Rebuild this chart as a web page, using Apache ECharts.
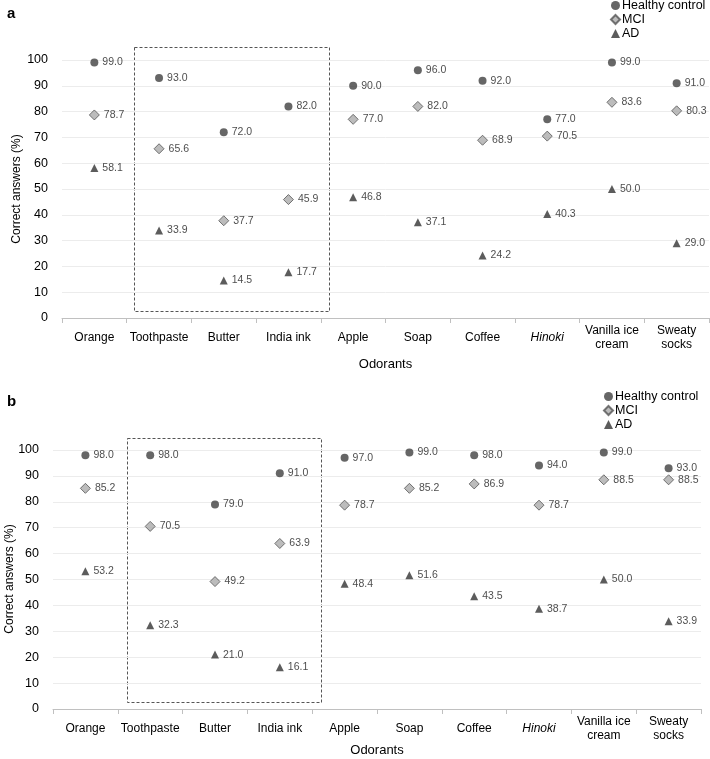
<!DOCTYPE html>
<html><head><meta charset="utf-8">
<script src="https://cdn.jsdelivr.net/npm/echarts@6/dist/echarts.min.js"></script>
<style>html,body{margin:0;padding:0;background:#fff}#c{width:710px;height:759px}</style>
</head><body><div id="c"></div>
<script>
var categories = ['Orange','Toothpaste','Butter','India ink','Apple','Soap','Coffee','Hinoki','Vanilla ice\ncream','Sweaty\nsocks'];
var seriesNames = ['Healthy control','MCI','AD'];
var aHealthy = [99.0, 93.0, 72.0, 82.0, 90.0, 96.0, 92.0, 77.0, 99.0, 91.0];
var aMCI     = [78.7, 65.6, 37.7, 45.9, 77.0, 82.0, 68.9, 70.5, 83.6, 80.3];
var aAD      = [58.1, 33.9, 14.5, 17.7, 46.8, 37.1, 24.2, 40.3, 50.0, 29.0];
var bHealthy = [98.0, 98.0, 79.0, 91.0, 97.0, 99.0, 98.0, 94.0, 99.0, 93.0];
var bMCI     = [85.2, 70.5, 49.2, 63.9, 78.7, 85.2, 86.9, 78.7, 88.5, 88.5];
var bAD      = [53.2, 32.3, 21.0, 16.1, 48.4, 51.6, 43.5, 38.7, 50.0, 33.9];
var yTicks = {min: 0, max: 100, interval: 10};
var yName = 'Correct answers (%)';

var FONT = '"Liberation Sans", Arial, sans-serif';
var styles = [
  {symbol: 'circle', size: 8, itemStyle: {color: '#404040'}},
  {symbol: 'diamond', size: 10, itemStyle: {color: '#ababab', borderColor: '#555', borderWidth: 1}},
  {symbol: 'triangle', size: 8, itemStyle: {color: '#333333'}}
];

function xAxis(gi, nameGap) {
  return {
    type: 'category', gridIndex: gi, data: categories,
    name: 'Odorants', nameLocation: 'middle', nameGap: nameGap,
    nameTextStyle: {fontSize: 13, color: '#000', fontFamily: FONT},
    axisLine: {lineStyle: {color: '#c0c0c0'}},
    axisTick: {show: true, length: 5, lineStyle: {color: '#c0c0c0'}, alignWithLabel: false},
    axisLabel: {interval: 0, margin: 20, verticalAlign: 'middle', color: '#000', fontSize: 12, fontFamily: FONT, lineHeight: 14,
      formatter: function (v) { return v === 'Hinoki' ? '{i|Hinoki}' : v; },
      rich: {i: {fontStyle: 'italic', fontSize: 12, color: '#000', fontFamily: FONT}}},
    splitLine: {show: false}
  };
}
function yAxis(gi) {
  return {
    type: 'value', gridIndex: gi, min: yTicks.min, max: yTicks.max, interval: yTicks.interval,
    axisLine: {show: false}, axisTick: {show: false},
    axisLabel: {margin: 14, color: '#000', fontSize: 12.5, fontFamily: FONT},
    splitLine: {lineStyle: {color: '#ececec'}}
  };
}
function mk(name, data, idx, gi) {
  var s = styles[idx];
  return {
    name: name, type: 'scatter', xAxisIndex: gi, yAxisIndex: gi, data: data,
    symbol: s.symbol, symbolSize: s.size, itemStyle: s.itemStyle,
    label: {show: true, position: 'right', distance: 4, color: '#1a1a1a', fontSize: 10.5, fontFamily: FONT,
      formatter: function (p) { return p.value.toFixed(1); }},
    emphasis: {disabled: true}
  };
}
function legend(left, top) {
  return {
    orient: 'vertical', left: left, top: top, itemWidth: 9, itemHeight: 9, itemGap: 1, padding: 0,
    textStyle: {fontSize: 12.5, color: '#000', fontFamily: FONT, padding: [0,0,0,-3]},
    data: seriesNames, selectedMode: false
  };
}
function yTitle(x, y) {
  return {type: 'text', x: x, y: y, rotation: Math.PI / 2, silent: true,
    style: {text: yName, align: 'center', verticalAlign: 'middle', fill: '#000', font: '12px ' + FONT}};
}

var chart = echarts.init(document.getElementById('c'), null, {renderer: 'canvas'});
chart.setOption({
  animation: false,
  backgroundColor: '#fff',
  textStyle: {fontFamily: FONT},
  title: [
    {text: 'a', left: 2, top: 1, textStyle: {fontSize: 15, fontWeight: 'bold', color: '#000', fontFamily: FONT}},
    {text: 'b', left: 2, top: 389, textStyle: {fontSize: 15, fontWeight: 'bold', color: '#000', fontFamily: FONT}}
  ],
  legend: [legend(610, -1), legend(603, 390)],
  grid: [
    {left: 62, right: 1, top: 60, bottom: 441, containLabel: false, outerBoundsMode: 'none'},
    {left: 53, right: 9, top: 450, bottom: 50, containLabel: false, outerBoundsMode: 'none'}
  ],
  xAxis: [xAxis(0, 40), xAxis(1, 35)],
  yAxis: [yAxis(0), yAxis(1)],
  series: [
    mk(seriesNames[0], aHealthy, 0, 0), mk(seriesNames[1], aMCI, 1, 0), mk(seriesNames[2], aAD, 2, 0),
    mk(seriesNames[0], bHealthy, 0, 1), mk(seriesNames[1], bMCI, 1, 1), mk(seriesNames[2], bAD, 2, 1)
  ],
  graphic: [
    yTitle(17, 189), yTitle(10, 579),
    {type: 'rect', shape: {x: 134.5, y: 47.5, width: 195, height: 264}, style: {fill: 'none', stroke: '#555', lineWidth: 1, lineDash: [3, 2]}, silent: true},
    {type: 'rect', shape: {x: 127.5, y: 438.5, width: 194, height: 264}, style: {fill: 'none', stroke: '#555', lineWidth: 1, lineDash: [3, 2]}, silent: true}
  ]
});
</script></body></html>
